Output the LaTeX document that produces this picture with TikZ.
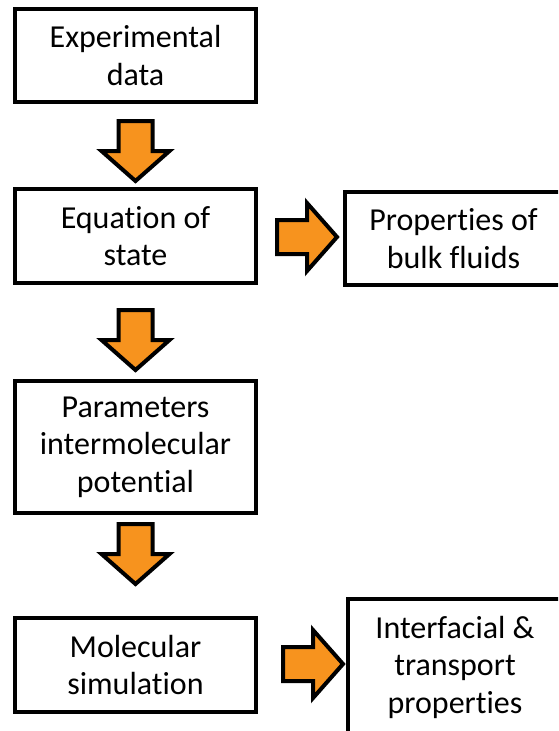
\documentclass[tikz,border=0pt]{standalone}
\usepackage{fontspec}
\setmainfont[Ligatures=NoCommon]{Carlito}
\usetikzlibrary{calc}
\definecolor{arrowfill}{RGB}{247,147,30}
\begin{document}
\begin{tikzpicture}[x=1pt,y=-1pt,
  box/.style={draw=black, line width=4pt, rectangle, align=center, inner sep=0pt,
    font=\fontsize{32}{37.5}\selectfont},
  leftbox/.style={box, minimum width=241pt},
  blockarrow/.pic={
    \draw[line width=4pt, fill=arrowfill, line join=miter]
      (-17,0) -- (17,0) -- (17,30) -- (34,30) -- (0,60) -- (-34,30) -- (-17,30) -- cycle;
  }
]
\clip (0,0) rectangle (558,731);
\useasboundingbox (0,0) rectangle (558,731);

% process chain on the left
\node[leftbox, minimum height=93pt] (exp) at (135.5,55.5) {Experimental\\data};
\node[leftbox, minimum height=94pt] (eos) at (135.5,236) {Equation of\\state};
\node[leftbox, minimum height=132pt] (par) at (135.5,447) {Parameters\\intermolecular\\potential};
\node[leftbox, minimum height=94pt] (mol) at (135.5,665) {Molecular\\simulation};

% results on the right
\node[box, minimum width=217pt, minimum height=93pt] (bulk) at (453.5,238.5) {Properties of\\bulk fluids};
\node[box, minimum width=214pt, minimum height=136pt] (intf) at (455,667) {Interfacial \&\\transport\\properties};

% block arrows
\pic at ($(exp.south)+(0,17)$) {blockarrow};
\pic at ($(eos.south)+(0,25)$) {blockarrow};
\pic at ($(par.south)+(0,9)$) {blockarrow};
\pic[rotate=90] at ($(eos.east)+(19,1)$) {blockarrow};
\pic[rotate=90] at ($(mol.east)+(25,-1)$) {blockarrow};
\end{tikzpicture}
\end{document}
